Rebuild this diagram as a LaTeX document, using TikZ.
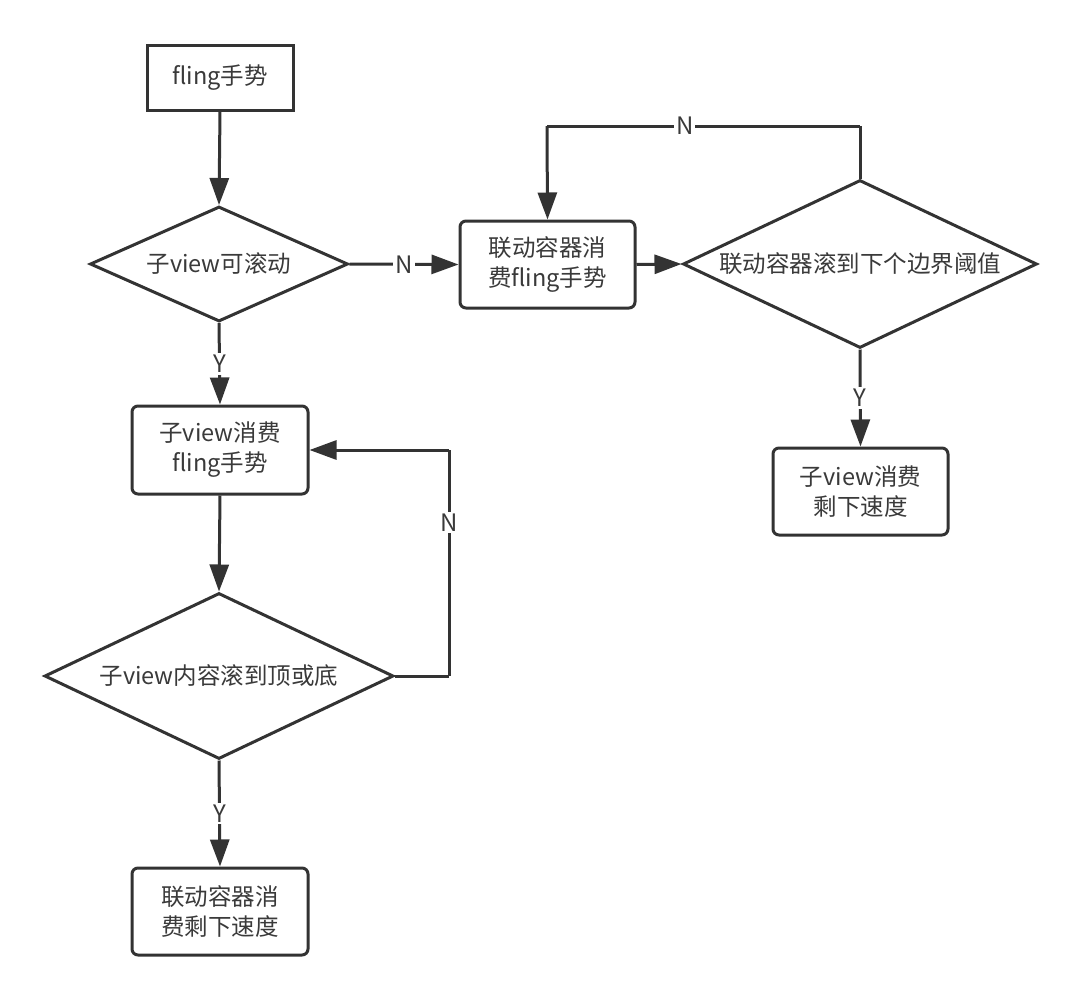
\documentclass[tikz,border=0pt]{standalone}
\usepackage{fontspec}
\newfontfamily\cjk{Noto Sans CJK SC}
\usetikzlibrary{shapes.geometric,arrows.meta}
\definecolor{ln}{HTML}{333333}
\definecolor{tx}{HTML}{3A3A3A}
\begin{document}
\begin{tikzpicture}[x=1pt,y=-1pt,
  every node/.style={font=\cjk\fontsize{23.5}{30}\selectfont, text=tx},
  base/.style={draw=ln, line width=3pt, inner sep=0pt, align=center},
  sqbox/.style={base, rectangle},
  rbox/.style={base, rectangle, rounded corners=6pt},
  dia/.style={base, diamond},
  conn/.style={draw=ln, line width=3pt, -{Triangle[length=27pt,width=19pt]}},
  seg/.style={draw=ln, line width=3pt},
  lab/.style={fill=white, inner sep=2pt, font=\cjk\fontsize{24}{28}\selectfont}
]
\useasboundingbox (0,0) rectangle (1080,1002);
\fill[white] (0,0) rectangle (1080,1002);

\node[sqbox, minimum width=146pt, minimum height=65pt] (start) at (220,77.5) {fling手势};
\node[dia, minimum width=258pt, minimum height=115pt, aspect=2.24] (d1) at (219,264) {子view可滚动};
\node[rbox, minimum width=175pt, minimum height=87pt] (b2) at (547.5,264.5) {联动容器消\\费fling手势};
\node[dia, minimum width=354pt, minimum height=168pt, aspect=2.1] (d2) at (860,264) {联动容器滚到下个边界阈值};
\node[rbox, minimum width=175pt, minimum height=87pt] (b3) at (860.5,491.5) {子view消费\\剩下速度};
\node[rbox, minimum width=176pt, minimum height=88pt] (b4) at (220,450) {子view消费\\fling手势};
\node[dia, minimum width=349pt, minimum height=166pt, aspect=2.1] (d3) at (219,676) {子view内容滚到顶或底};
\node[rbox, minimum width=176pt, minimum height=87pt] (b5) at (220,911.5) {联动容器消\\费剩下速度};

\coordinate (c1) at (860,126);
\coordinate (c2) at (547,126);
\coordinate (c3) at (449,676);
\coordinate (c4) at (449,450);

\draw[conn] (start.south) -- (d1.north);
\draw[conn] (d1.east) -- node[lab] {N} (b2.west);
\draw[conn] (b2.east) -- (d2.west);
\draw[seg] (d2.north) -- (c1);
\draw[seg] (c1) -- node[lab, pos=0.56] {N} (c2);
\draw[conn] (c2) -- (b2.north);
\draw[conn] (d2.south) -- node[lab] {Y} (b3.north);
\draw[conn] (d1.south) -- node[lab] {Y} (b4.north);
\draw[conn] (b4.south) -- (d3.north);
\draw[seg] (d3.east) -- (c3);
\draw[seg] (c3) -- node[lab, pos=0.68] {N} (c4);
\draw[conn] (c4) -- (b4.east);
\draw[conn] (d3.south) -- node[lab] {Y} (b5.north);
\end{tikzpicture}
\end{document}
